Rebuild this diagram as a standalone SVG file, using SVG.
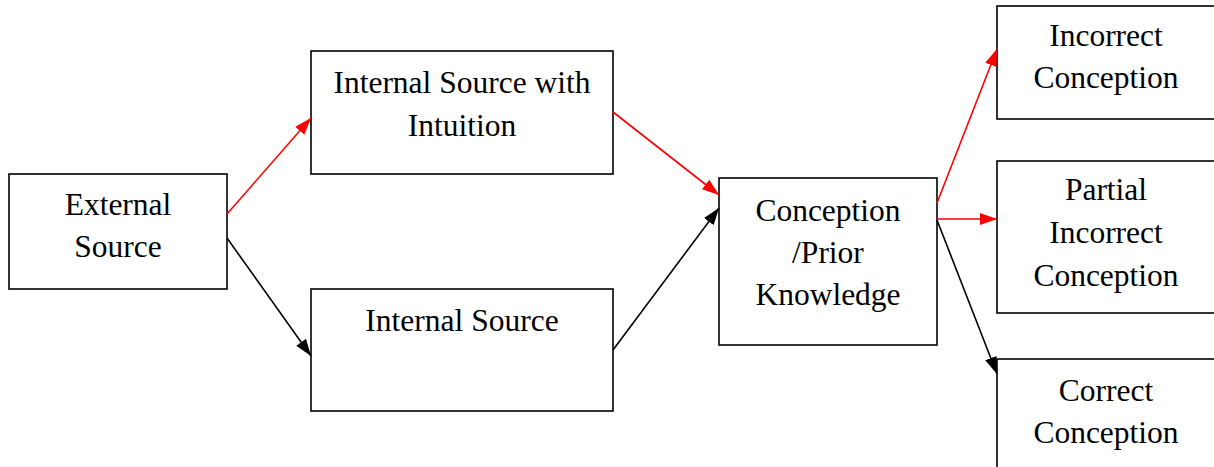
<svg xmlns="http://www.w3.org/2000/svg" width="1214" height="467" viewBox="0 0 1214 467">
<defs>
<style>
.box{fill:#fff;stroke:#000;stroke-width:1.6}
.t{font-family:"Liberation Serif","Times New Roman",serif;font-size:31.5px;fill:#000;text-anchor:middle}
.red{stroke:#ff0000;stroke-width:1.6;fill:none}
.blk{stroke:#000;stroke-width:1.6;fill:none}
</style>
<marker id="ar" markerUnits="userSpaceOnUse" markerWidth="18" markerHeight="14" viewBox="0 0 18 14" refX="17" refY="7" orient="auto"><path d="M0,1 L17,7 L0,13 Z" fill="#ff0000"/></marker>
<marker id="ab" markerUnits="userSpaceOnUse" markerWidth="18" markerHeight="14" viewBox="0 0 18 14" refX="17" refY="7" orient="auto"><path d="M0,1 L17,7 L0,13 Z" fill="#000"/></marker>
</defs>
<rect width="1214" height="467" fill="#fff"/>
<g id="n-external">
<rect class="box" x="9" y="174" width="218" height="115"/>
<text class="t" x="118" y="215">External</text>
<text class="t" x="118" y="257">Source</text>
</g>
<g id="n-internal-intuition">
<rect class="box" x="311" y="51" width="302" height="123"/>
<text class="t" x="462" y="93">Internal Source with</text>
<text class="t" x="462" y="136">Intuition</text>
</g>
<g id="n-internal">
<rect class="box" x="311" y="289" width="302" height="122"/>
<text class="t" x="462" y="331">Internal Source</text>
</g>
<g id="n-conception">
<rect class="box" x="719" y="178" width="218" height="167"/>
<text class="t" x="828" y="221">Conception</text>
<text class="t" x="828" y="263">/Prior</text>
<text class="t" x="828" y="305">Knowledge</text>
</g>
<g id="n-incorrect">
<rect class="box" x="997" y="6" width="230" height="113"/>
<text class="t" x="1106" y="46">Incorrect</text>
<text class="t" x="1106" y="88">Conception</text>
</g>
<g id="n-partial">
<rect class="box" x="997" y="161" width="230" height="152"/>
<text class="t" x="1106" y="200">Partial</text>
<text class="t" x="1106" y="243">Incorrect</text>
<text class="t" x="1106" y="286">Conception</text>
</g>
<g id="n-correct">
<rect class="box" x="997" y="359" width="230" height="130"/>
<text class="t" x="1106" y="401">Correct</text>
<text class="t" x="1106" y="443">Conception</text>
</g>
<g id="connectors">
<line class="red" x1="227" y1="214" x2="311" y2="118" marker-end="url(#ar)"/>
<line class="blk" x1="227" y1="238" x2="311" y2="356" marker-end="url(#ab)"/>
<line class="red" x1="613" y1="112" x2="719" y2="195" marker-end="url(#ar)"/>
<line class="blk" x1="613" y1="350" x2="719" y2="208" marker-end="url(#ab)"/>
<line class="red" x1="937" y1="203" x2="997" y2="49" marker-end="url(#ar)"/>
<line class="red" x1="937" y1="219" x2="997" y2="219" marker-end="url(#ar)"/>
<line class="blk" x1="937" y1="220" x2="997" y2="374" marker-end="url(#ab)"/>
</g>
</svg>
